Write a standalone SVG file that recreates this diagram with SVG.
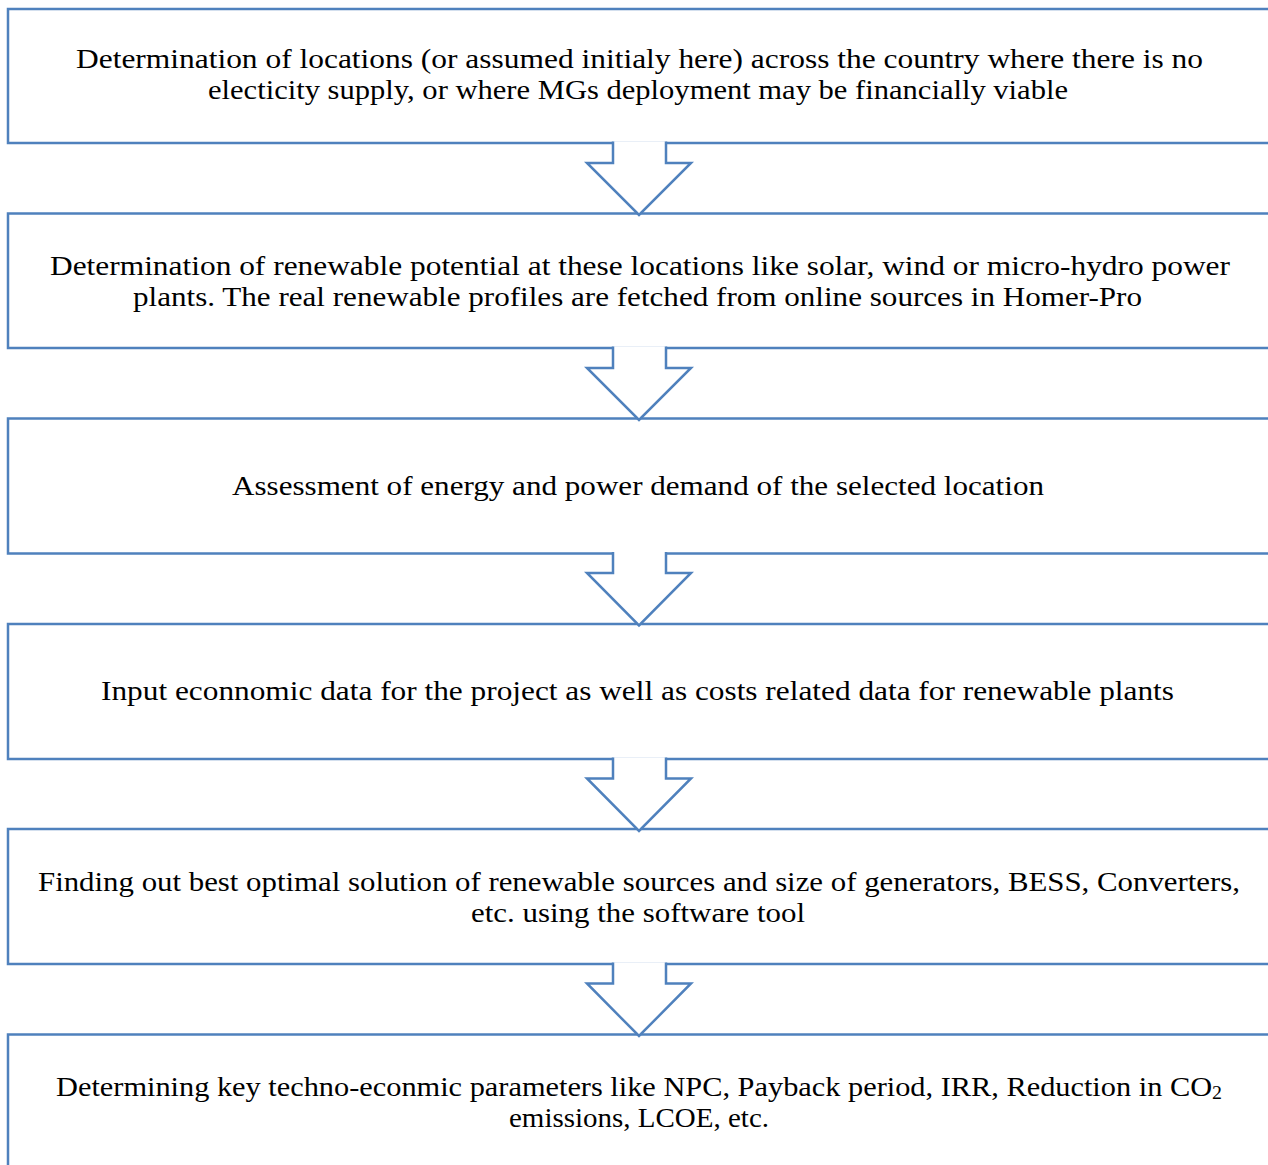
<svg xmlns="http://www.w3.org/2000/svg" width="1268" height="1165" viewBox="0 0 1268 1165">
<style>
.box{fill:none;stroke:#4F81BD;stroke-width:2.5}
.arr{fill:#fff;stroke:#4F81BD;stroke-width:2.5;stroke-linejoin:miter}
.t{font-family:"Liberation Serif",serif;font-size:27.5px;fill:#000;text-anchor:middle}
</style>
<rect width="1268" height="1165" fill="#fff"/>
<g id="n1"><path class="box" d="M1270,9H8V143H1270"/>
<text class="t" x="639.5" y="68" textLength="1127" lengthAdjust="spacingAndGlyphs">Determination of locations (or assumed initialy here) across the country where there is no</text>
<text class="t" x="638" y="99" textLength="860" lengthAdjust="spacingAndGlyphs">electicity supply, or where MGs deployment may be financially viable</text></g>
<g id="n2"><path class="box" d="M1270,213.5H8V348H1270"/>
<text class="t" x="640" y="274.5" textLength="1180" lengthAdjust="spacingAndGlyphs">Determination of renewable potential at these locations like solar, wind or micro-hydro power</text>
<text class="t" x="637.5" y="305.5" textLength="1009" lengthAdjust="spacingAndGlyphs">plants. The real renewable profiles are fetched from online sources in Homer-Pro</text></g>
<g id="n3"><path class="box" d="M1270,418.5H8V553.5H1270"/>
<text class="t" x="638" y="495" textLength="812" lengthAdjust="spacingAndGlyphs">Assessment of energy and power demand of the selected location</text></g>
<g id="n4"><path class="box" d="M1270,624H8V759H1270"/>
<text class="t" x="637.5" y="700" textLength="1073" lengthAdjust="spacingAndGlyphs">Input econnomic data for the project as well as costs related data for renewable plants</text></g>
<g id="n5"><path class="box" d="M1270,829H8V964H1270"/>
<text class="t" x="639" y="890.5" textLength="1202" lengthAdjust="spacingAndGlyphs">Finding out best optimal solution of renewable sources and size of generators, BESS, Converters,</text>
<text class="t" x="638" y="921.5" textLength="334" lengthAdjust="spacingAndGlyphs">etc. using the software tool</text></g>
<g id="n6"><path class="box" d="M1270,1034.5H8V1167"/>
<text class="t" x="639" y="1095.5" textLength="1166" lengthAdjust="spacingAndGlyphs">Determining key techno-econmic parameters like NPC, Payback period, IRR, Reduction in CO<tspan font-size="18" dy="3">2</tspan></text>
<text class="t" x="639" y="1126.5" textLength="260" lengthAdjust="spacingAndGlyphs">emissions, LCOE, etc.</text></g>
<g id="connectors">
<path class="arr" d="M613,141.5V163H587L639,215L691,163H666V141.5"/>
<path class="arr" d="M613,346.5V368H587L639,420L691,368H666V346.5"/>
<path class="arr" d="M613,552V573H587L639,625.5L691,573H666V552"/>
<path class="arr" d="M613,757.5V778.5H587L639,831L691,778.5H666V757.5"/>
<path class="arr" d="M613,962.5V983.5H587L639,1036L691,983.5H666V962.5"/>
</g>
</svg>
